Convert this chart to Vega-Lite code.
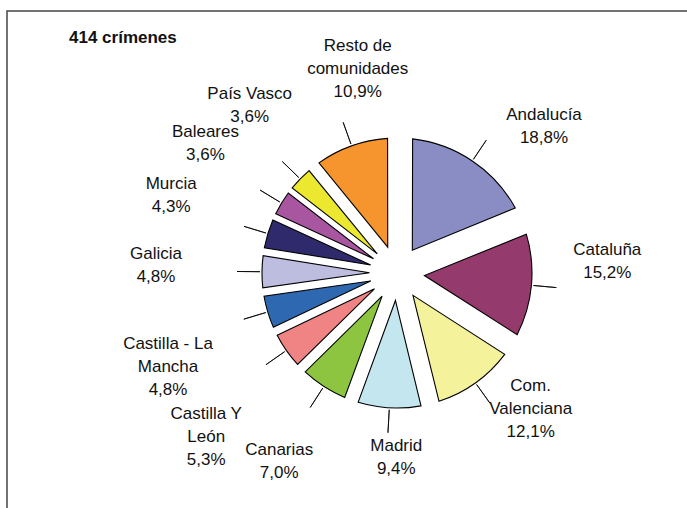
{
  "$schema": "https://vega.github.io/schema/vega-lite/v6.json",
  "width": 780,
  "height": 524,
  "autosize": {"type": "none"},
  "padding": {"left": 7, "top": 11, "right": 0, "bottom": 0},
  "background": "white",
  "view": {"stroke": "#444", "strokeWidth": 1.5, "fill": "white"},
  "config": {
    "view": {"stroke": "#444", "strokeWidth": 1.5},
    "font": "Liberation Sans"
  },
  "title": {
    "text": "414 crímenes",
    "anchor": "start",
    "frame": "group",
    "orient": "top",
    "offset": -49,
    "dx": 62,
    "baseline": "alphabetic",
    "font": "Liberation Sans",
    "fontSize": 17,
    "fontWeight": "bold",
    "color": "#111"
  },
  "data": {
    "values": [
      {"orden": 1, "region": "Andalucía", "value": 18.8, "etiqueta": "Andalucía\n18,8%"},
      {"orden": 2, "region": "Cataluña", "value": 15.2, "etiqueta": "Cataluña\n15,2%"},
      {"orden": 3, "region": "Com. Valenciana", "value": 12.1, "etiqueta": "Com.\nValenciana\n12,1%"},
      {"orden": 4, "region": "Madrid", "value": 9.4, "etiqueta": "Madrid\n9,4%"},
      {"orden": 5, "region": "Canarias", "value": 7.0, "etiqueta": "Canarias\n7,0%"},
      {"orden": 6, "region": "Castilla Y León", "value": 5.3, "etiqueta": "Castilla Y\nLeón\n5,3%"},
      {"orden": 7, "region": "Castilla - La Mancha", "value": 4.8, "etiqueta": "Castilla - La\nMancha\n4,8%"},
      {"orden": 8, "region": "Galicia", "value": 4.8, "etiqueta": "Galicia\n4,8%"},
      {"orden": 9, "region": "Murcia", "value": 4.3, "etiqueta": "Murcia\n4,3%"},
      {"orden": 10, "region": "Baleares", "value": 3.6, "etiqueta": "Baleares\n3,6%"},
      {"orden": 11, "region": "País Vasco", "value": 3.6, "etiqueta": "País Vasco\n3,6%"},
      {"orden": 12, "region": "Resto de comunidades", "value": 10.9, "etiqueta": "Resto de\ncomunidades\n10,9%"}
    ]
  },
  "encoding": {
    "theta": {"field": "value", "type": "quantitative", "stack": true},
    "order": {"field": "orden", "type": "quantitative"}
  },
  "layer": [
    {
      "mark": {
        "type": "arc",
        "innerRadius": 27.5,
        "outerRadius": 135,
        "stroke": "#000",
        "strokeWidth": 1.1,
        "padAngle": {"expr": "2*asin(28/sqrt(27.5*27.5+135*135)*sin(PI*datum.value/99.8))"}
      },
      "encoding": {
        "color": {
          "field": "region",
          "type": "nominal",
          "legend": null,
          "scale": {
            "domain": ["Andalucía", "Cataluña", "Com. Valenciana", "Madrid", "Canarias", "Castilla Y León", "Castilla - La Mancha", "Galicia", "Murcia", "Baleares", "País Vasco", "Resto de comunidades"],
            "range": ["#8A8DC3", "#953A6C", "#F4F29B", "#C4E6EF", "#8DC540", "#F08383", "#2D68B0", "#BDBDE0", "#2F2A6C", "#A956A1", "#ECE72F", "#F6952E"]
          }
        }
      }
    },
    {
      "mark": {
        "type": "arc",
        "innerRadius": 137,
        "outerRadius": 160,
        "padAngle": 3,
        "filled": false,
        "stroke": "#000",
        "strokeWidth": 0.8
      }
    },
    {
      "mark": {
        "type": "text",
        "radius": 200,
        "dx": {"expr": "-15 + 226*sin((PI*(datum.value_start+datum.value_end)/99.8)+0.25*max(cos(PI*(datum.value_start+datum.value_end)/99.8),0)-0.12*max(-cos(PI*(datum.value_start+datum.value_end)/99.8),0)) - 200*sin(PI*(datum.value_start+datum.value_end)/99.8)"},
        "dy": {"expr": "-5 - (cos((PI*(datum.value_start+datum.value_end)/99.8)+0.25*max(cos(PI*(datum.value_start+datum.value_end)/99.8),0)-0.12*max(-cos(PI*(datum.value_start+datum.value_end)/99.8),0)) > 0 ? 200 : 190)*cos((PI*(datum.value_start+datum.value_end)/99.8)+0.25*max(cos(PI*(datum.value_start+datum.value_end)/99.8),0)-0.12*max(-cos(PI*(datum.value_start+datum.value_end)/99.8),0)) + ((sin((PI*(datum.value_start+datum.value_end)/99.8)+0.25*max(cos(PI*(datum.value_start+datum.value_end)/99.8),0)-0.12*max(-cos(PI*(datum.value_start+datum.value_end)/99.8),0)) < 0 && cos((PI*(datum.value_start+datum.value_end)/99.8)+0.25*max(cos(PI*(datum.value_start+datum.value_end)/99.8),0)-0.12*max(-cos(PI*(datum.value_start+datum.value_end)/99.8),0)) < 0) ? 130*sin((PI*(datum.value_start+datum.value_end)/99.8)+0.25*max(cos(PI*(datum.value_start+datum.value_end)/99.8),0)-0.12*max(-cos(PI*(datum.value_start+datum.value_end)/99.8),0))*cos((PI*(datum.value_start+datum.value_end)/99.8)+0.25*max(cos(PI*(datum.value_start+datum.value_end)/99.8),0)-0.12*max(-cos(PI*(datum.value_start+datum.value_end)/99.8),0))*abs(sin((PI*(datum.value_start+datum.value_end)/99.8)+0.25*max(cos(PI*(datum.value_start+datum.value_end)/99.8),0)-0.12*max(-cos(PI*(datum.value_start+datum.value_end)/99.8),0))) : 0) - 22*pow(max(sin(PI*(datum.value_start+datum.value_end)/99.8),0),4) + 200*cos(PI*(datum.value_start+datum.value_end)/99.8) - 11.5*(length(split(datum.etiqueta, '\\n')) - 1)"},
        "fontSize": 17,
        "font": "Liberation Sans",
        "lineBreak": "\n",
        "lineHeight": 23,
        "align": "center",
        "baseline": "middle",
        "color": "#111"
      },
      "encoding": {
        "text": {"field": "etiqueta", "type": "nominal"}
      }
    }
  ]
}
